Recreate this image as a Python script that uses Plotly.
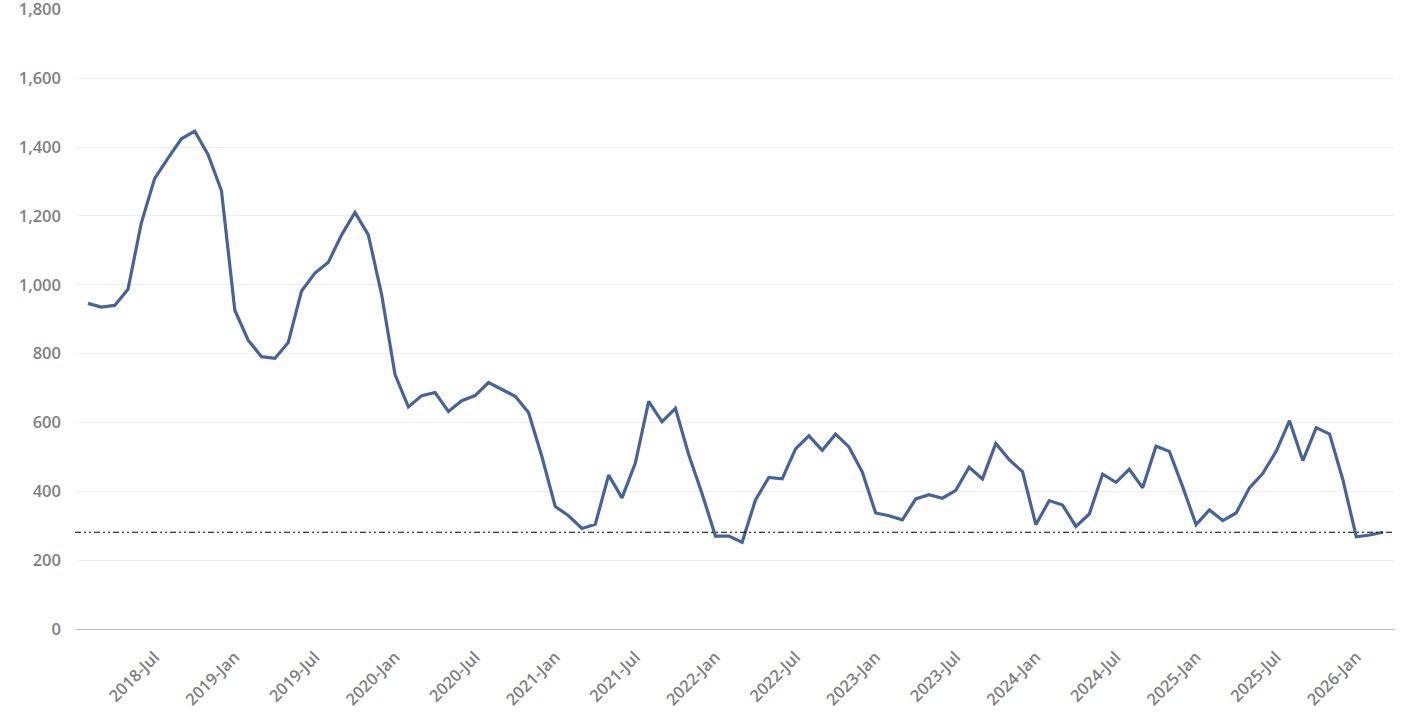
import pandas as pd
import plotly.graph_objects as go

# monthly series, Feb 2018 - Mar 2026
months = pd.date_range("2018-02-01", "2026-03-01", freq="MS").strftime("%Y-%b").tolist()
values = [
    946, 935, 940, 987, 1180, 1309, 1368, 1424, 1446, 1378, 1273, 926,
    839, 791, 786, 832, 982, 1034, 1065, 1145, 1210, 1145, 971, 739,
    645, 678, 687, 632, 663, 678, 716, 697, 676, 629, 501, 356,
    329, 292, 304, 447, 381, 482, 661, 602, 641, 506, 393, 270,
    270, 252, 375, 440, 436, 523, 561, 519, 566, 529, 456, 337,
    329, 317, 378, 390, 380, 403, 470, 436, 539, 492, 457, 303,
    373, 360, 298, 334, 450, 426, 464, 410, 531, 516, 413, 303,
    346, 315, 337, 410, 452, 516, 605, 489, 585, 566, 433, 268,
    273, 281,
]
reference_level = 281

# ticks every January / July
tick_labels = [m for m in months if m.endswith("-Jan") or m.endswith("-Jul")]

fig = go.Figure()
fig.add_trace(go.Scatter(x=months, y=values, mode="lines",
                         line=dict(color="#46639a", width=3.2)))

fig.add_hline(y=reference_level,
              line=dict(color="black", width=1, dash="6px,3px,2px,3px,2px,3px"))

tick_font = dict(family="Open Sans", size=16.5, color="#808080", weight=600)
fig.update_layout(
    width=1410, height=720,
    margin=dict(l=75, r=15, t=9, b=91),
    plot_bgcolor="white", paper_bgcolor="white",
    showlegend=False,
    xaxis=dict(type="category", range=[-0.97, 97.9], tickvals=tick_labels,
               ticktext=tick_labels, tickangle=-45, tickfont=tick_font,
               showgrid=False, showline=True, linecolor="#bfbfbf", linewidth=1,
               ticks="", ticklabelstandoff=11, automargin=False),
    yaxis=dict(range=[0, 1801], tickvals=list(range(0, 1801, 200)), tickformat=",",
               tickfont=tick_font, gridcolor="#efefef", zeroline=False,
               showline=False, ticks="", ticklabelstandoff=13,
               ticklabeloverflow="allow", automargin=False),
)

# drop the default page margin so the figure sits at the window's corner
fig.write_html("out.html", config={"displayModeBar": False},
               post_script="document.body.style.margin='0';")
